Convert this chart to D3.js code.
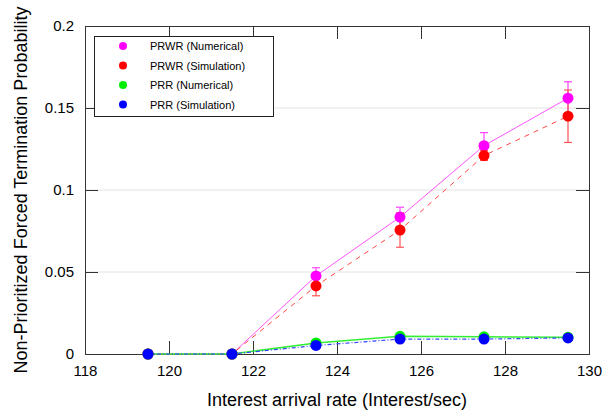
<!DOCTYPE html>
<html>
<head>
<meta charset="utf-8">
<style>
  body { margin: 0; background: #fff; }
  svg { font-family: "Liberation Sans", Arial, sans-serif; }
</style>
<script src="https://d3js.org/d3.v7.min.js"></script>
</head>
<body>
<script>
const rates = [119.5, 121.5, 123.5, 125.5, 127.5, 129.5];

const prwrNum = [0, 0, 0.0476, 0.0835, 0.127, 0.156];
const prwrNumErr = [0, 0, 0.005, 0.006, 0.008, 0.010];
const prwrSim = [0, 0, 0.0415, 0.0756, 0.121, 0.145];
const prwrSimErr = [0, 0, 0.006, 0.0105, 0.003, 0.016];
const prrNum = [0, 0, 0.0067, 0.0108, 0.0105, 0.0102];
const prrSim = [0, 0, 0.0052, 0.0091, 0.0091, 0.0098];

const xTicks = [118, 120, 122, 124, 126, 128, 130];
const yTicks = [0, 0.05, 0.1, 0.15, 0.2];

const width = 603, height = 413;
const plotL = 85, plotR = 589, plotT = 26, plotB = 354;

const svg = d3.select("body").append("svg")
  .attr("width", width)
  .attr("height", height);

const x = d3.scaleLinear().domain([118, 130]).range([plotL, plotR]);
const y = d3.scaleLinear().domain([0, 0.2]).range([plotB, plotT]);

// grid
svg.append("g").selectAll("line")
  .data(yTicks.slice(1, -1))
  .enter().append("line")
    .attr("x1", plotL).attr("x2", plotR)
    .attr("y1", d => y(d)).attr("y2", d => y(d))
    .style("stroke", "#e2e2e2");

// axes with inward ticks
const tk = 13;
svg.append("g").attr("transform", `translate(0,${plotB})`)
  .call(d3.axisBottom(x).tickValues(xTicks).tickSize(-tk).tickPadding(11).tickFormat(d3.format("d")));
svg.append("g").attr("transform", `translate(0,${plotT})`)
  .call(d3.axisTop(x).tickValues(xTicks).tickSize(-tk).tickFormat(""));
svg.append("g").attr("transform", `translate(${plotL},0)`)
  .call(d3.axisLeft(y).tickValues(yTicks).tickSize(-tk).tickPadding(11).tickFormat(d => d === 0 ? "0" : d3.format("")(d)));
svg.append("g").attr("transform", `translate(${plotR},0)`)
  .call(d3.axisRight(y).tickValues(yTicks).tickSize(-tk).tickFormat(""));

svg.selectAll(".domain").style("stroke", "#333");
svg.selectAll(".tick line").style("stroke", "#333");
svg.selectAll(".tick text").style("font-size", "15px").style("fill", "#000")
  .style("font-family", "'Liberation Sans', Arial, sans-serif");

const series = [
  {name: "PRWR (Numerical)", vals: prwrNum, err: prwrNumErr, color: "#ff00ff", line: "#ff55ff", dash: null, w: 1, ec: "#ff44ff"},
  {name: "PRWR (Simulation)", vals: prwrSim, err: prwrSimErr, color: "#ff0000", line: "#ff4444", dash: "5,5", w: 1, ec: "#ff5555"},
  {name: "PRR (Numerical)", vals: prrNum, err: null, color: "#00ee00", line: "#33ee33", dash: null, w: 1.5},
  {name: "PRR (Simulation)", vals: prrSim, err: null, color: "#0000ff", line: "#3344ff", dash: "4,2,1,2", w: 1.2}
];

const line = d3.line().x(d => x(d[0])).y(d => y(d[1]));

series.forEach(s => {
  const pts = rates.map((r, i) => [r, s.vals[i]]);
  svg.append("path")
    .datum(pts)
    .attr("d", line)
    .style("fill", "none")
    .style("stroke", s.line)
    .style("stroke-width", s.w)
    .style("stroke-dasharray", s.dash);
  if (s.err) {
    const eb = svg.append("g").selectAll("g")
      .data(rates.map((r, i) => ({r, v: s.vals[i], e: s.err[i]})).filter(d => d.e > 0))
      .enter().append("g")
        .style("stroke", s.ec).style("stroke-width", 1.2);
    eb.append("line")
      .attr("x1", d => x(d.r)).attr("x2", d => x(d.r))
      .attr("y1", d => y(d.v - d.e)).attr("y2", d => y(d.v + d.e));
    eb.append("line")
      .attr("x1", d => x(d.r) - 4).attr("x2", d => x(d.r) + 4)
      .attr("y1", d => y(d.v + d.e)).attr("y2", d => y(d.v + d.e));
    eb.append("line")
      .attr("x1", d => x(d.r) - 4).attr("x2", d => x(d.r) + 4)
      .attr("y1", d => y(d.v - d.e)).attr("y2", d => y(d.v - d.e));
  }
});

series.forEach(s => {
  svg.append("g").selectAll("circle")
    .data(rates.map((r, i) => [r, s.vals[i]]))
    .enter().append("circle")
      .attr("cx", d => x(d[0]))
      .attr("cy", d => y(d[1]))
      .attr("r", 5.5)
      .style("fill", s.color);
});

// legend
const lg = svg.append("g");
lg.append("rect")
  .attr("x", 94.5).attr("y", 36.5).attr("width", 179).attr("height", 80)
  .style("fill", "#fff").style("stroke", "#222").style("stroke-width", 1);
series.forEach((s, i) => {
  const yy = 46 + i * 19.5;
  lg.append("circle").attr("cx", 123).attr("cy", yy).attr("r", 4).style("fill", s.color);
  lg.append("text").attr("x", 150).attr("y", yy + 4)
    .style("font-size", "11px").text(s.name);
});

// axis labels
svg.append("text")
  .attr("x", 337).attr("y", 406)
  .attr("text-anchor", "middle")
  .style("font-size", "18px")
  .text("Interest arrival rate (Interest/sec)");
svg.append("text")
  .attr("transform", "translate(27,190) rotate(-90)")
  .attr("text-anchor", "middle")
  .style("font-size", "18px")
  .text("Non-Prioritized Forced Termination Probability");
</script>
</body>
</html>
